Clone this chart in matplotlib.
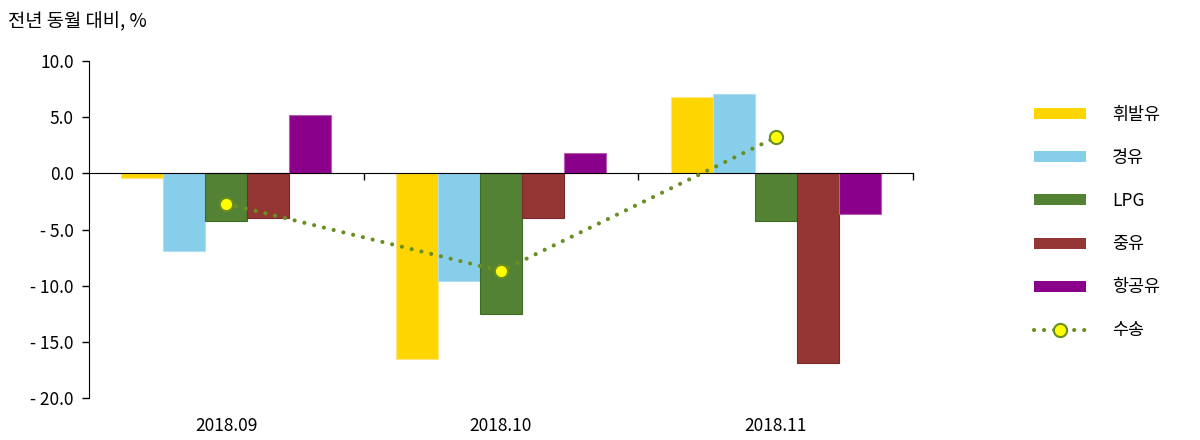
import matplotlib
matplotlib.use("Agg")
import matplotlib.pyplot as plt
import numpy as np
from matplotlib.lines import Line2D
from matplotlib.patches import Patch
from matplotlib.ticker import FuncFormatter

plt.rcParams['font.family'] = ['Noto Sans CJK KR', 'DejaVu Sans']

categories = ['2018.09', '2018.10', '2018.11']
series_names = ['휘발유', '경유', 'LPG', '중유', '항공유']
gasoline = [-0.4, -16.5, 6.8]
diesel = [-6.9, -9.6, 7.1]
lpg = [-4.2, -12.5, -4.2]
heavy = [-4.0, -4.0, -16.9]
jet = [5.2, 1.8, -3.6]
transport = [-2.7, -8.7, 3.2]
line_name = '수송'
yticks = [10, 5, 0, -5, -10, -15, -20]

colors = ['#FFD500', '#87CEEB', '#548235', '#943634', '#8B008B']
edge_colors = ['#FFE680', '#B0DFF2', '#3F6B22', '#7A2A28', '#B060B0']
line_color = '#6B8E23'
dots = (0, (0.01, 2.4))

fig = plt.figure(figsize=(12, 4.4), dpi=100)
ax = fig.add_axes([89/1200, 1-398/440, 824/1200, 337/440])

x = np.arange(len(categories))
bw = 0.153
data = [gasoline, diesel, lpg, heavy, jet]
for i, (vals, c, ec) in enumerate(zip(data, colors, edge_colors)):
    ax.bar(x + (i-2)*bw, vals, width=bw, color=c, edgecolor=ec, linewidth=0.8, zorder=2)

ax.plot(x, transport, color=line_color, linestyle=dots, dash_capstyle='round',
        linewidth=3.0, marker='o', markersize=9.5, markerfacecolor='#FFFF00',
        markeredgecolor=line_color, markeredgewidth=1.5, zorder=4)

ax.set_xlim(-0.5, 2.5)
ax.set_ylim(-20, 10)
ax.set_yticks(yticks)
ax.yaxis.set_major_formatter(FuncFormatter(lambda v, p: f"{v:.1f}" if v >= 0 else f"- {abs(v):.1f}"))
ax.tick_params(axis='y', direction='out', length=5, width=1, labelsize=12.5, pad=6, colors='black')

ax.spines['top'].set_visible(False)
ax.spines['right'].set_visible(False)
ax.spines['bottom'].set_position(('data', 0))
ax.spines['bottom'].set_zorder(3)
ax.spines['left'].set_color('black')
ax.set_xticks([0.5, 1.5, 2.5])
ax.set_xticklabels([])
ax.tick_params(axis='x', direction='out', length=5, width=1)

sec = ax.secondary_xaxis('bottom')
sec.spines['bottom'].set_visible(False)
sec.set_xticks(x)
sec.set_xticklabels(categories)
sec.tick_params(axis='x', length=0, labelsize=12.5, pad=14)

fig.text(8/1200, 1-22/440, '전년 동월 대비, %', fontsize=13.5, va='center', ha='left')

handles = [Patch(facecolor=c, edgecolor='none') for c in colors]
handles.append(Line2D([0], [0], color=line_color, linestyle=dots, dash_capstyle='round',
                      linewidth=3.0, marker='o', markersize=9.5, markerfacecolor='#FFFF00',
                      markeredgecolor=line_color, markeredgewidth=1.5))
leg = fig.legend(handles, series_names + [line_name], loc='upper left',
                 bbox_to_anchor=(1018/1200, 1-90/440), frameon=False, fontsize=12.5,
                 handlelength=3.0, handleheight=0.6, handletextpad=1.5, labelspacing=1.45,
                 numpoints=1)

fig.savefig('out.png', dpi=100)
